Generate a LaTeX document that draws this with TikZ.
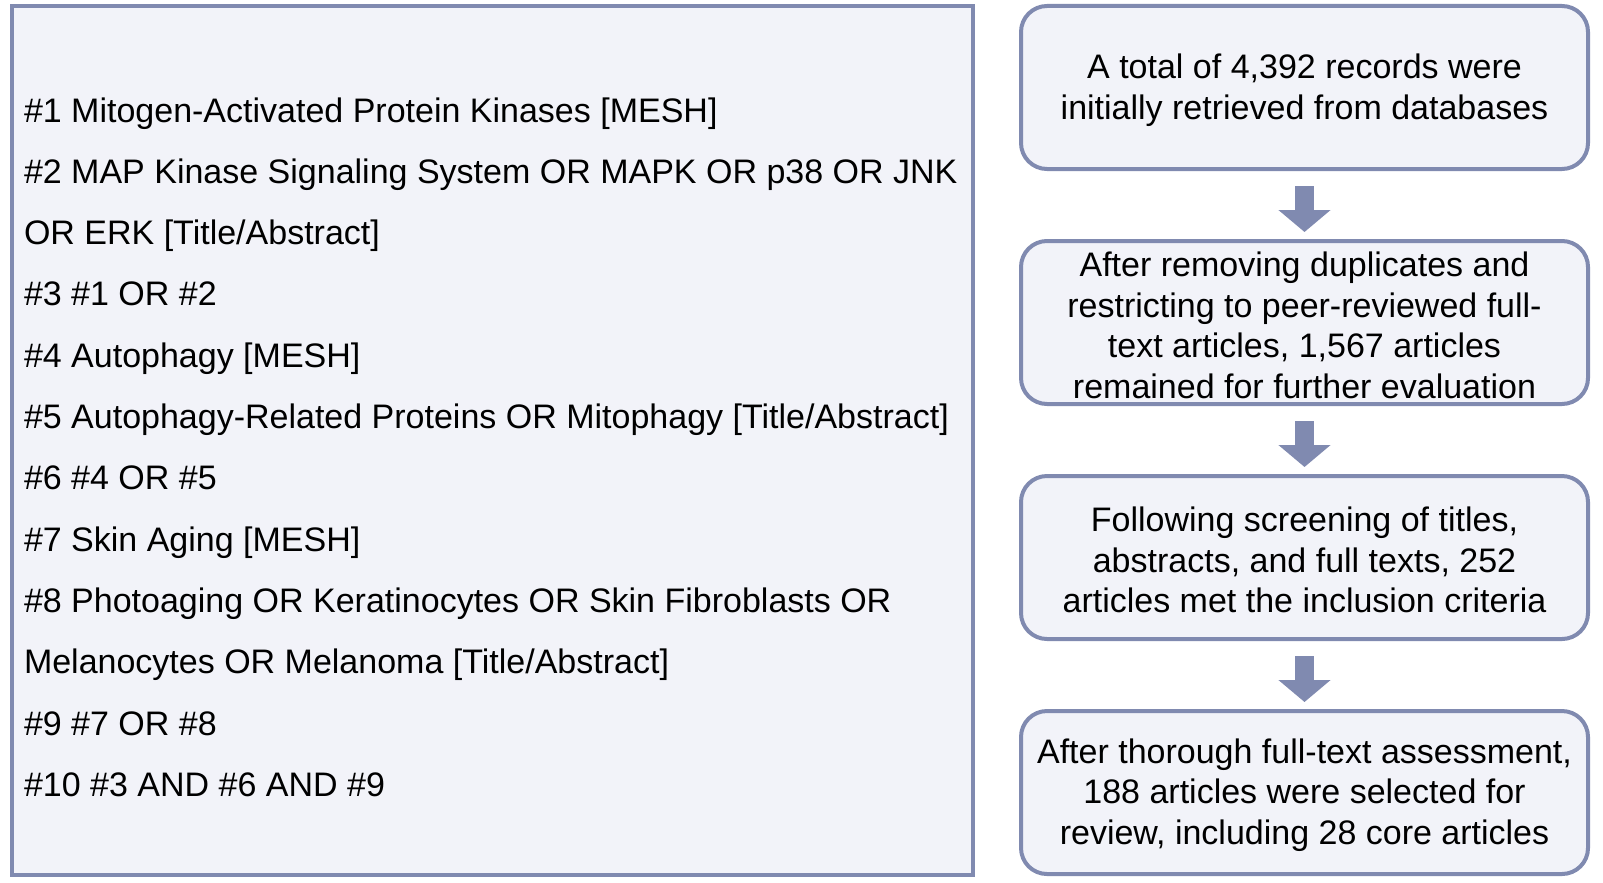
\documentclass[tikz,border=0pt]{standalone}
\usepackage{fontspec}
\setmainfont{Liberation Sans}
\usetikzlibrary{positioning}
\usetikzlibrary{arrows.meta}
\definecolor{boxline}{RGB}{128,138,176}
\definecolor{boxfill}{RGB}{242,243,249}
\newcommand{\toppad}{\rule{0pt}{30bp}}

\begin{document}
\begin{tikzpicture}[x=1bp,y=-1bp,node distance=72bp,
	every node/.style={inner sep=0,outer sep=0,font=\fontsize{34bp}{40.5bp}\selectfont},
	query/.style={draw=boxline,fill=boxfill,line width=4bp,minimum width=961bp,minimum height=869bp},
	stage/.style={draw=boxline,fill=boxfill,line width=4bp,rounded corners=26bp,minimum width=567bp,minimum height=163bp,align=center},
	flow/.style={color=boxline,line width=19bp,-{Triangle[width=51bp,length=22bp]},shorten <=17bp,shorten >=9bp}]
	\useasboundingbox (0,0) rectangle (1603,882);
	% search strategy
	\node[query] (Q) at (492.5,440.5) {};
	\foreach \txt [count=\i from 0] in {
		{\#1 Mitogen-Activated Protein Kinases [MESH]},
		{\#2 MAP Kinase Signaling System OR MAPK OR p38 OR JNK},
		{OR ERK [Title/Abstract]},
		{\#3 \#1 OR \#2},
		{\#4 Autophagy [MESH]},
		{\#5 Autophagy-Related Proteins OR Mitophagy [Title/Abstract]},
		{\#6 \#4 OR \#5},
		{\#7 Skin Aging [MESH]},
		{\#8 Photoaging OR Keratinocytes OR Skin Fibroblasts OR},
		{Melanocytes OR Melanoma [Title/Abstract]},
		{\#9 \#7 OR \#8},
		{\#10 \#3 AND \#6 AND \#9}}
		\node[anchor=base west] (q\i) at (24,122+61.3*\i) {\txt};
	% selection steps
	\node[stage] (S1) at (1304.5,87.5) {\toppad A total of 4,392 records were\\initially retrieved from databases};
	\node[stage,below=of S1] (S2) {\toppad After removing duplicates and\\restricting to peer-reviewed full-\\text articles, 1,567 articles\\remained for further evaluation};
	\node[stage,below=of S2] (S3) {\toppad Following screening of titles,\\abstracts, and full texts, 252\\articles met the inclusion criteria};
	\node[stage,below=of S3] (S4) {\toppad After thorough full-text assessment,\\188 articles were selected for\\review, including 28 core articles};
	\draw[flow] (S1) -- (S2);
	\draw[flow] (S2) -- (S3);
	\draw[flow] (S3) -- (S4);
\end{tikzpicture}
\end{document}
